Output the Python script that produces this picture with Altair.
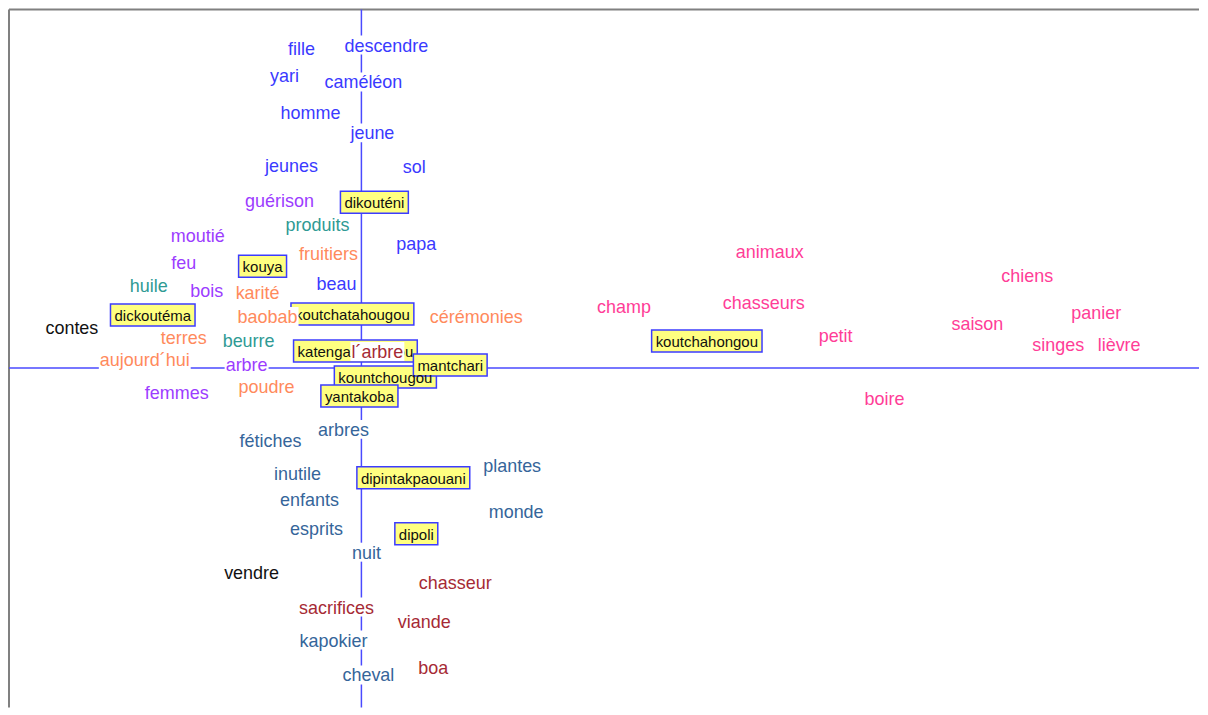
import altair as alt
import pandas as pd

# ---- data (factor coordinates) ----
words = ["fille", "descendre", "yari", "caméléon", "homme", "jeune", "jeunes", "sol", "papa", "beau",
         "guérison", "moutié", "feu", "bois", "arbre", "femmes",
         "produits", "huile", "beurre",
         "fruitiers", "karité", "baobab", "cérémonies", "terres", "aujourd´hui", "poudre",
         "contes", "vendre",
         "arbres", "fétiches", "inutile", "plantes", "enfants", "monde", "esprits", "nuit", "kapokier", "cheval",
         "l´arbre", "chasseur", "sacrifices", "viande", "boa",
         "animaux", "chiens", "champ", "chasseurs", "panier", "saison", "petit", "singes", "lièvre", "boire"]
word_x = [-0.60, 0.25, -0.77, 0.02, -0.51, 0.11, -0.70, 0.53, 0.55, -0.25,
          -0.82, -1.64, -1.78, -1.55, -1.15, -1.85,
          -0.44, -2.13, -1.13,
          -0.33, -1.04, -0.94, 1.15, -1.78, -2.17, -0.95,
          -2.90, -1.10,
          -0.18, -0.91, -0.64, 1.51, -0.52, 1.55, -0.45, 0.05, -0.28, 0.07,
          0.16, 0.94, -0.25, 0.63, 0.72,
          4.09, 6.67, 2.63, 4.03, 7.36, 6.17, 4.75, 6.98, 7.59, 5.24]
word_y = [3.20, 3.23, 2.92, 2.86, 2.55, 2.35, 2.02, 2.01, 1.24, 0.84,
          1.67, 1.32, 1.05, 0.77, 0.03, -0.25,
          1.43, 0.82, 0.27,
          1.14, 0.75, 0.51, 0.51, 0.30, 0.08, -0.19,
          0.40, -2.05,
          -0.62, -0.73, -1.06, -0.98, -1.32, -1.44, -1.61, -1.85, -2.73, -3.08,
          0.16, -2.15, -2.40, -2.54, -3.01,
          1.16, 0.92, 0.61, 0.65, 0.55, 0.44, 0.32, 0.23, 0.23, -0.31]
word_class = (["c1"] * 10 + ["c2"] * 6 + ["c3"] * 3 + ["c4"] * 7 + ["c0"] * 2 +
              ["c5"] * 10 + ["c6"] * 5 + ["c7"] * 10)

classes = ["c0", "c1", "c2", "c3", "c4", "c5", "c6", "c7"]
class_colors = ["#111111", "#3a3aff", "#9c3cff", "#2f9a94", "#ff8a5c", "#35659a", "#a62a35", "#ff3d97"]

boxes = ["dikouténi", "kouya", "dickoutéma", "koutchatahougou", "katengatahougou", "kountchougou",
         "mantchari", "yantakoba", "dipintakpaouani", "dipoli", "koutchahongou"]
box_x = [0.13, -0.99, -2.09, -0.09, -0.06, 0.24, 0.89, -0.02, 0.52, 0.55, 3.46]
box_y = [1.66, 1.02, 0.53, 0.54, 0.17, -0.09, 0.03, -0.28, -1.10, -1.66, 0.27]

# ---- helpers: approximate Arial text widths ----
ARIAL = {"a": 556, "b": 556, "c": 500, "d": 556, "e": 556, "f": 278, "g": 556, "h": 556, "i": 222,
         "j": 222, "k": 500, "l": 222, "m": 833, "n": 556, "o": 556, "p": 556, "q": 556, "r": 333,
         "s": 500, "t": 278, "u": 556, "v": 500, "w": 722, "x": 500, "y": 500, "z": 500,
         "é": 556, "è": 556, "´": 333}


def text_w(s, size):
    return sum(ARIAL.get(ch, 556) for ch in s) / 1000.0 * size


PX = 100.0  # pixels per unit
XMIN, XMAX = -3.53, 8.39
YMIN, YMAX = -3.40, 3.59
W = int(round((XMAX - XMIN) * PX))
H = int(round((YMAX - YMIN) * PX))

WORD_SIZE = 18
BOX_SIZE = 15

wdf = pd.DataFrame({"word": words, "x": word_x, "y": word_y, "cls": word_class})
wdf["hw"] = wdf["word"].apply(lambda s: (text_w(s, WORD_SIZE) + 2) / 2 / PX)
wdf["x1"] = wdf["x"] - wdf["hw"]
wdf["x2"] = wdf["x"] + wdf["hw"]
wdf["y1"] = wdf["y"] - 0.09
wdf["y2"] = wdf["y"] + 0.10

bdf = pd.DataFrame({"word": boxes, "x": box_x, "y": box_y, "order": list(range(len(boxes)))})
bdf["hw"] = bdf["word"].apply(lambda s: (text_w(s, BOX_SIZE) + 8) / 2 / PX)
bdf["x1"] = bdf["x"] - bdf["hw"]
bdf["x2"] = bdf["x"] + bdf["hw"]
bdf["y1"] = bdf["y"] - 0.11
bdf["y2"] = bdf["y"] + 0.11

xs = alt.Scale(domain=[XMIN, XMAX], nice=False, zero=False)
ys = alt.Scale(domain=[YMIN, YMAX], nice=False, zero=False)
noax = None

axes_df = pd.DataFrame({"v": [0.0]})
hline = alt.Chart(axes_df).mark_rule(color="#4a4aff", strokeWidth=1.5).encode(
    y=alt.Y("v:Q", scale=ys, axis=noax))
vline = alt.Chart(axes_df).mark_rule(color="#4a4aff", strokeWidth=1.5).encode(
    x=alt.X("v:Q", scale=xs, axis=noax))

frame_left = alt.Chart(axes_df).mark_rule(color="#808080", strokeWidth=2).encode(
    x=alt.value(0), y=alt.value(0), y2=alt.value(H))
frame_top = alt.Chart(axes_df).mark_rule(color="#808080", strokeWidth=2).encode(
    x=alt.value(0), x2=alt.value(W), y=alt.value(0))

box_rect = alt.Chart(bdf).mark_rect(fill="#ffff80", stroke="#3c3cff", strokeWidth=1.5).encode(
    x=alt.X("x1:Q", scale=xs, axis=noax), x2="x2:Q",
    y=alt.Y("y1:Q", scale=ys, axis=noax), y2="y2:Q",
    order="order:Q")
box_text = alt.Chart(bdf).mark_text(font="Liberation Sans", fontSize=BOX_SIZE, color="#111111",
                                    baseline="middle", dy=1).encode(
    x=alt.X("x:Q", scale=xs, axis=noax), y=alt.Y("y:Q", scale=ys, axis=noax), text="word:N")

word_bg = alt.Chart(wdf).mark_rect(fill="white").encode(
    x=alt.X("x1:Q", scale=xs, axis=noax), x2="x2:Q",
    y=alt.Y("y1:Q", scale=ys, axis=noax), y2="y2:Q")
word_text = alt.Chart(wdf).mark_text(font="Liberation Sans", fontSize=WORD_SIZE,
                                     baseline="middle", dy=1).encode(
    x=alt.X("x:Q", scale=xs, axis=noax), y=alt.Y("y:Q", scale=ys, axis=noax), text="word:N",
    color=alt.Color("cls:N", scale=alt.Scale(domain=classes, range=class_colors), legend=None))

chart = alt.layer(frame_left, frame_top, hline, vline, box_rect, box_text, word_bg, word_text).properties(
    width=W, height=H, padding=0, background="white"
).configure_view(stroke="transparent", strokeWidth=0)

chart.save("out.html", embed_options={"renderer": "svg", "actions": False})
